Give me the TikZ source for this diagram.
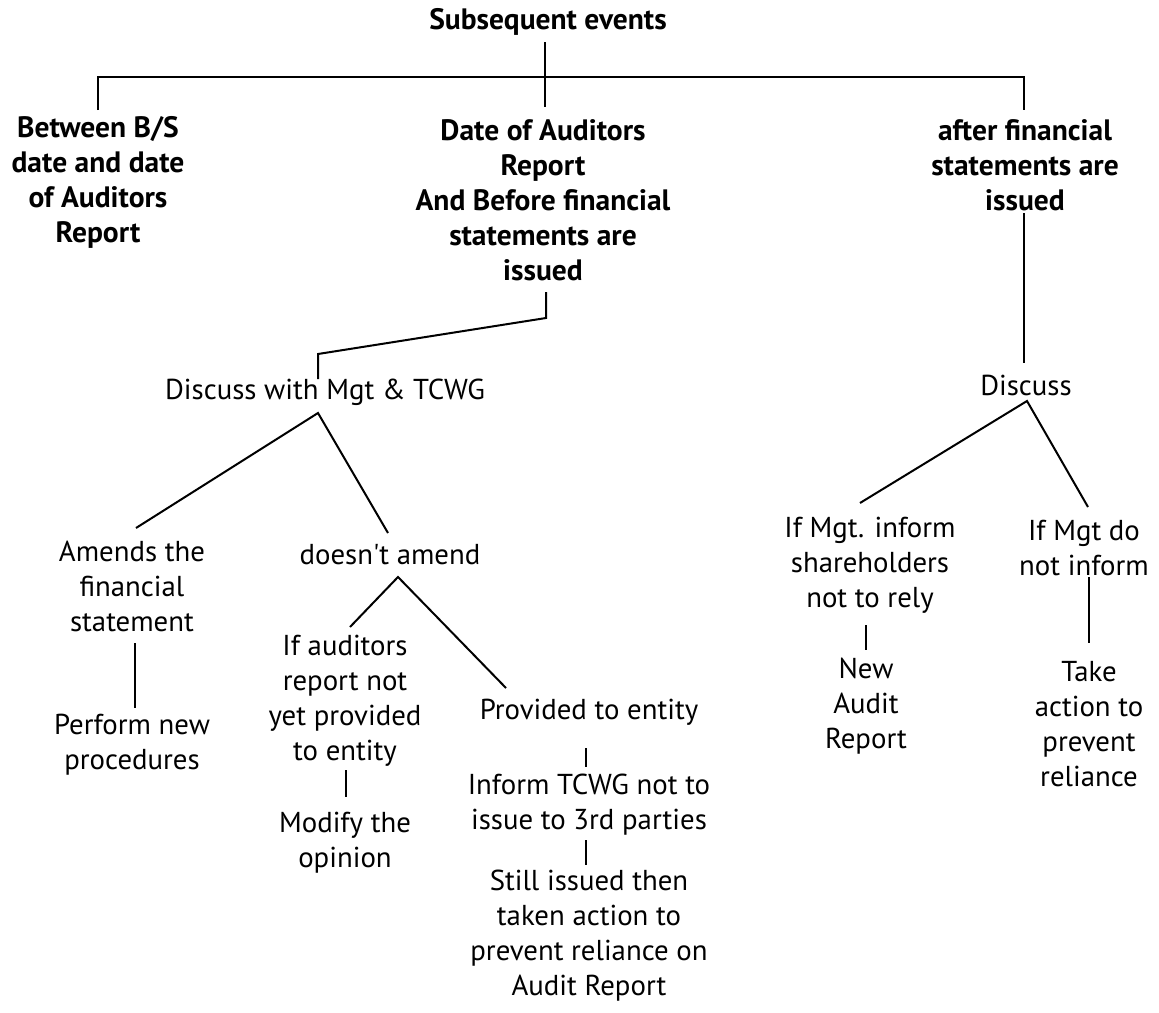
\documentclass[tikz,border=0pt]{standalone}
\usepackage{fontspec}
\setmainfont{PT Sans}
\begin{document}
\begin{tikzpicture}[x=1pt,y=-1pt,
  every node/.style={inner sep=0pt,align=center,font=\fontsize{28.8}{35}\selectfont},
  head/.style={font=\bfseries\fontsize{29.5}{35}\selectfont},
  link/.style={line width=2pt,line cap=butt,line join=miter}]
\useasboundingbox[fill=white] (0,0) rectangle (1159,1012);

% headings
\node[head] (title) at (548,22) {Subsequent events};
\node[head] (left)  at (98,182.5) {Between B/S\\date and date\\of Auditors\\Report};
\node[head] (mid)   at (543,200) {Date of Auditors\\Report\\And Before financial\\statements are\\issued};
\node[head] (right) at (1025,165) {after financial\\statements are\\issued};

% middle branch
\node (disc1)   at (325,392) {Discuss with Mgt \& TCWG};
\node (amend)   at (132,586) {Amends the\\financial\\statement};
\node (perform) at (132,745) {Perform new\\procedures};
\node (noamend) at (390,555) {doesn\textquotesingle t amend};
\node (ifaud)   at (345,700.5) {If auditors\\report not\\yet provided\\to entity};
\node (modify)  at (345,842.5) {Modify the\\opinion};
\node (prov)    at (589,712) {Provided to entity};
\node (inform)  at (589,805) {Inform TCWG not to\\issue to 3rd parties};
\node (still)   at (589,935.5) {Still issued then\\taken action to\\prevent reliance on\\Audit Report};

% right branch
\node (disc2)   at (1026,385) {Discuss};
\node (ifmgt)   at (870,565) {If Mgt. inform\\shareholders\\not to rely};
\node (newaud)  at (866,706) {New\\Audit\\Report};
\node (ifnot)   at (1084,547.5) {If Mgt do\\not inform};
\node (take)    at (1089,724) {Take\\action to\\prevent\\reliance};

% connector end points
\coordinate (tA) at (545,42);   \coordinate (tB) at (545,107);
\coordinate (bL) at (98,110);   \coordinate (bLc) at (98,77);
\coordinate (bR) at (1024,110); \coordinate (bRc) at (1024,77);
\coordinate (rA) at (1024,213); \coordinate (rB) at (1024,363);
\coordinate (mA) at (546,292);  \coordinate (mB) at (546,318);
\coordinate (mC) at (318,354);  \coordinate (mD) at (318,379);
\coordinate (d1) at (318,413);
\coordinate (aT) at (136,528);  \coordinate (nT) at (388,533);
\coordinate (aA) at (135,643);  \coordinate (aB) at (135,708);
\coordinate (n1) at (398,577);
\coordinate (iT) at (350,627);  \coordinate (pT) at (506,688);
\coordinate (iA) at (346,770);  \coordinate (iB) at (346,797);
\coordinate (pA) at (586,748);  \coordinate (pB) at (586,767);
\coordinate (fA) at (586,840);  \coordinate (fB) at (586,865);
\coordinate (d2) at (1027,401);
\coordinate (gT) at (860,503);  \coordinate (hT) at (1088,507);
\coordinate (gA) at (866,625);  \coordinate (gB) at (866,650);
\coordinate (hA) at (1089,577); \coordinate (hB) at (1089,643);

% connectors
\draw[link] (tA) -- (tB);
\draw[link] (bL) -- (bLc) -- (bRc) -- (bR);
\draw[link] (rA) -- (rB);
\draw[link] (mA) -- (mB) -- (mC) -- (mD);
\draw[link] (aT) -- (d1) -- (nT);
\draw[link] (aA) -- (aB);
\draw[link] (iT) -- (n1) -- (pT);
\draw[link] (iA) -- (iB);
\draw[link] (pA) -- (pB);
\draw[link] (fA) -- (fB);
\draw[link] (gT) -- (d2) -- (hT);
\draw[link] (gA) -- (gB);
\draw[link] (hA) -- (hB);
\end{tikzpicture}
\end{document}
